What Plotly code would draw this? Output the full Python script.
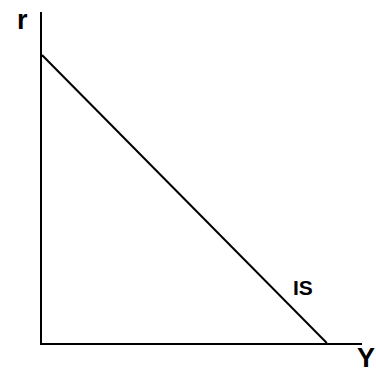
import plotly.graph_objects as go

# IS curve: output Y against interest rate r
is_y = [0, 8.9]
is_r = [8.7, 0]

fig = go.Figure()
fig.add_trace(
    go.Scatter(
        x=is_y,
        y=is_r,
        mode="lines",
        line=dict(color="black", width=2),
        hoverinfo="skip",
        showlegend=False,
    )
)

label_font = dict(family="Liberation Sans, Arial", color="black")
centered = dict(showarrow=False, xanchor="center", yanchor="middle")

fig.add_annotation(
    x=8.16, y=1.68, text="<b>IS</b>", font=dict(size=21, **label_font), **centered
)
fig.add_annotation(
    x=-0.0625, y=0.976, xref="paper", yref="paper", text="<b>r</b>",
    font=dict(size=27, **label_font), **centered
)
fig.add_annotation(
    x=1.0125, y=-0.045, xref="paper", yref="paper", text="<b>Y</b>",
    font=dict(size=27, **label_font), **centered
)

fig.update_layout(
    width=376,
    height=370,
    margin=dict(l=42, r=14, t=12, b=27),
    plot_bgcolor="white",
    paper_bgcolor="white",
)
fig.update_xaxes(
    range=[0, 10], showgrid=False, zeroline=False, showticklabels=False,
    ticks="", showline=True, linecolor="black", linewidth=2,
)
fig.update_yaxes(
    range=[0, 10], showgrid=False, zeroline=False, showticklabels=False,
    ticks="", showline=True, linecolor="black", linewidth=2,
)

# drop the default body margin so the figure fills the window exactly
fig.write_html(
    "out.html",
    config={"displayModeBar": False},
    post_script="document.body.style.margin = '0';",
)
